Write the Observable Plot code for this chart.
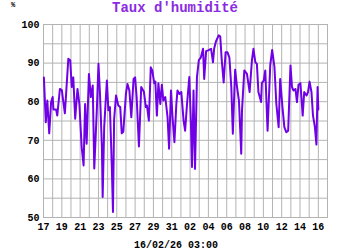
<!DOCTYPE html>
<html>
<head>
<meta charset="utf-8">
<script src="https://cdn.jsdelivr.net/npm/d3@7"></script>
<script src="https://cdn.jsdelivr.net/npm/@observablehq/plot@0.6"></script>
<style>
  html, body { margin: 0; padding: 0; background: #ffffff; }
  #chart { width: 350px; height: 250px; }
</style>
</head>
<body>
<div id="chart"></div>
<script>
// ---- data ----
const title = "Taux d'humidité";
const unitLabel = "%";
const caption = "16/02/26 03:00";
const startISO = "2026-01-17T00:00:00Z";
const endISO = "2026-02-17T00:00:00Z";
// hours since start
const hours = [1,6,10,15,20,24,26,33,36,43,48,56,65,70,74,78,83,89,94,100,
  105,109,113,119,124,129,133,140,144,148,153,155,159,166,170,174,179,182,185,190,
  196,201,205,209,216,220,225,230,236,240,244,250,256,263,268,271,276,281,285,290,
  293,297,301,306,310,314,319,325,329,334,338,343,348,351,356,361,367,371,376,382,
  386,389,393,397,402,407,412,418,421,426,431,439,444,447,452,459,463,467,472,477,
  482,487,492,496,502,507,512,518,520,526,533,540,546,550,555,559,563,570,572,577,
  581,587,594,599,605,610,616,620,626,631,636,641,647,651,655,660,664,668,673,679,
  683,689,693,697,702,706,711,715,718,720];
const humidity = [86.3,74.7,80.3,71.8,80,81.2,78,78,76.4,83.3,83,77,91.1,90.7,83.8,86.3,75.6,83.3,79.4,68.2,
  63.5,79.4,69.1,87.2,81.2,84.2,62.7,78.6,89.8,82,68.2,55.3,73.4,85.5,77.8,78.6,63,51.4,75.4,81.6,
  79,78.6,71.8,72.2,82.1,84.6,82.9,76,85.9,86.3,81.2,68.4,83.8,82.6,78.6,79,75.1,88.9,88.1,84.8,
  85.2,76.4,84.8,79.4,84.4,80.3,81.2,76,67.8,82.9,76,69.5,79.4,82.9,82,82.5,75.1,72.5,79.4,86.4,
  75.1,63.1,82.9,62.6,86.4,90.8,91.4,93.7,85.9,93.1,93.3,93.7,90.2,93.7,95.7,97.2,96.9,90.7,85,92.8,
  92.8,91.4,83.8,71.7,88.3,83.8,80.3,66.5,77.7,88.1,87.2,82.5,90.7,93.7,90.2,89.8,82.5,79.9,84.8,85.5,
  88.1,72.5,89.4,93.4,89,79.4,73.4,85.9,78.6,73.4,72.1,72.5,89.4,83.8,82.9,83.3,79.9,84.4,84.8,76.4,
  82.5,81.6,82.5,85.2,82.5,76.4,73.4,68.9,83.8,78];
const yTickValues = [50,60,70,80,90,100];
const yGridValues = [50,55,60,65,70,75,80,85,90,95,100];

// ---- build table ----
const t0 = new Date(startISO).getTime();
const rows = hours.map((h, i) => ({date: new Date(t0 + h * 3600e3), value: humidity[i]}));
const x0 = new Date(startISO), x1 = new Date(endISO);
const dayTicks = d3.utcDay.range(x0, d3.utcDay.offset(x1, 1));
const labelTicks = d3.utcDay.every(2).range ? d3.utcDays(x0, x1).filter((d, i) => i % 2 === 0) : [];

const gridColor = "#b3b3b3";
const font = "'Liberation Mono', 'DejaVu Sans Mono', monospace";

const chart = Plot.plot({
  width: 350,
  height: 250,
  marginLeft: 43,
  marginRight: 23,
  marginTop: 24,
  marginBottom: 33,
  style: {fontFamily: font, fontSize: "10px", fontWeight: "bold", background: "#ffffff", color: "#000"},
  x: {type: "utc", domain: [x0, x1]},
  y: {domain: [50, 100]},
  marks: [
    Plot.gridX(dayTicks, {stroke: gridColor, strokeOpacity: 1, strokeWidth: 1}),
    Plot.gridY(yGridValues, {stroke: gridColor, strokeOpacity: 1, strokeWidth: 1}),
    Plot.frame({stroke: gridColor, strokeWidth: 1}),
    Plot.axisX(labelTicks, {tickSize: 0, tickPadding: 5, tickFormat: d3.utcFormat("%d"), label: null, fill: "#000"}),
    Plot.axisY(yTickValues, {tickSize: 0, tickPadding: 4, label: null, fill: "#000"}),
    Plot.line(rows, {x: "date", y: "value", stroke: "#7000e6", strokeWidth: 2, strokeLinejoin: "round"})
  ]
});

const svg = d3.select(chart);
svg.append("text")
  .attr("x", 175).attr("y", 12)
  .attr("text-anchor", "middle")
  .style("font-family", font).style("font-size", "14px").style("font-weight", "bold")
  .attr("fill", "#8a2be2")
  .text(title);
svg.append("text")
  .attr("x", 13).attr("y", 7)
  .attr("text-anchor", "middle")
  .style("font-family", font).style("font-size", "7px").style("font-weight", "bold")
  .attr("fill", "#000")
  .text(unitLabel);
svg.append("text")
  .attr("x", 176).attr("y", 248)
  .attr("text-anchor", "middle")
  .style("font-family", font).style("font-size", "10px").style("font-weight", "bold")
  .attr("fill", "#000")
  .text(caption);

document.getElementById("chart").appendChild(chart);
</script>
</body>
</html>
